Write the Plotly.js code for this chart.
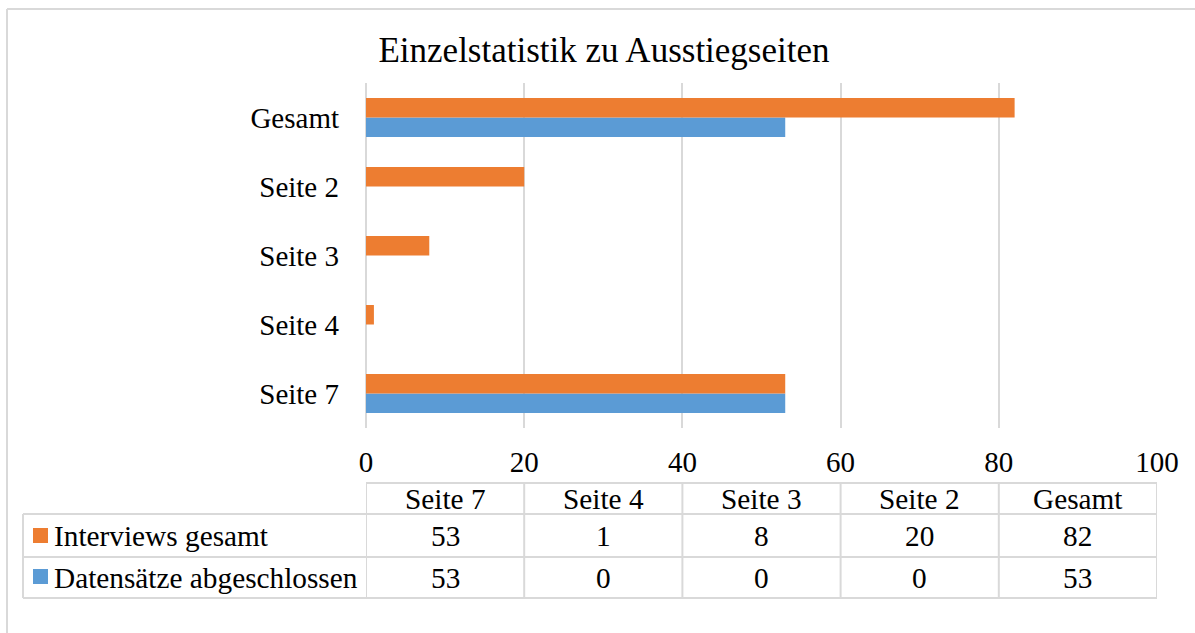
<!DOCTYPE html>
<html>
<head>
<meta charset="utf-8">
<script src="https://cdn.plot.ly/plotly-3.0.1.min.js"></script>
<style>html,body{margin:0;padding:0;background:#fff;}</style>
</head>
<body>
<div id="chart" style="width:1195px;height:633px;"></div>
<script>
// ---- data ----
const categories = ["Seite 7", "Seite 4", "Seite 3", "Seite 2", "Gesamt"];
const interviewsGesamt = [53, 1, 8, 20, 82];
const datensaetzeAbgeschlossen = [53, 0, 0, 0, 53];
const seriesNames = ["Interviews gesamt", "Datensätze abgeschlossen"];
const xTicks = [0, 20, 40, 60, 80, 100];
const chartTitle = "Einzelstatistik zu Ausstiegseiten";

// ---- style ----
const ORANGE = "#ED7D31", BLUE = "#5B9BD5", GRID = "#d9d9d9";
const FONT = "Liberation Serif";
const W = 1195, H = 633;
const L = 366, R = 1157, T = 83, B = 428;
const pw = R - L, ph = B - T;
const px = v => (v - L) / pw;      // pixel x -> paper
const py = v => (B - v) / ph;      // pixel y -> paper

const traces = [
  {type: "bar", orientation: "h", name: seriesNames[1], y: categories, x: datensaetzeAbgeschlossen,
   marker: {color: BLUE}, hoverinfo: "x+y"},
  {type: "bar", orientation: "h", name: seriesNames[0], y: categories, x: interviewsGesamt,
   marker: {color: ORANGE}, hoverinfo: "x+y"}
];

const shapes = [];
const annotations = [];
const line = (x0, y0, x1, y1, xref) => shapes.push({type: "line", xref: xref || "paper", yref: "paper",
  x0: x0, y0: y0, x1: x1, y1: y1, line: {color: GRID, width: 2}});

// outer chart border (left + top visible)
line(px(7), py(9), px(7), py(640));
line(px(7), py(9), px(1200), py(9));

// data table grid
const yHead = 483, yR1 = 514, yR2 = 557, yBot = 598, xLab = 23;
line(0, py(yHead), 100, py(yHead), "x");
[yR1, yR2, yBot].forEach(y => shapes.push({type: "line", xref: "paper", yref: "paper",
  x0: px(xLab), x1: 1, y0: py(y), y1: py(y), line: {color: GRID, width: 2}}));
line(px(xLab), py(yR1), px(xLab), py(yBot));
xTicks.forEach(t => line(t, py(yHead), t, py(yBot), "x"));

const txt = (x, y, s, xref, anchor) => annotations.push({xref: xref || "paper", yref: "paper", x: x, y: y,
  text: s, showarrow: false, xanchor: anchor || "center", yanchor: "middle",
  font: {family: FONT, size: 29.3, color: "#000"}});

const step = xTicks[1] - xTicks[0];
categories.forEach((c, i) => {
  const cx = xTicks[0] + step * (i + 0.5);
  txt(cx, py((yHead + yR1) / 2), c, "x");
  txt(cx, py((yR1 + yR2) / 2), String(interviewsGesamt[i]), "x");
  txt(cx, py((yR2 + yBot) / 2), String(datensaetzeAbgeschlossen[i]), "x");
});

// legend keys in table
shapes.push({type: "rect", xref: "paper", yref: "paper", x0: px(33), x1: px(48),
  y0: py(528), y1: py(543), fillcolor: ORANGE, line: {width: 0}});
shapes.push({type: "rect", xref: "paper", yref: "paper", x0: px(33), x1: px(48),
  y0: py(569), y1: py(584), fillcolor: BLUE, line: {width: 0}});
txt(px(52), py((yR1 + yR2) / 2), seriesNames[0], "paper", "left");
txt(px(52), py((yR2 + yBot) / 2), seriesNames[1], "paper", "left");

const layout = {
  width: W, height: H,
  margin: {l: L, r: W - R, t: T, b: H - B, pad: 0},
  paper_bgcolor: "#fff", plot_bgcolor: "#fff",
  showlegend: false,
  barmode: "group", bargap: 0.435, bargroupgap: 0,
  font: {family: FONT, color: "#000"},
  title: {text: chartTitle, font: {family: FONT, size: 35, color: "#000"},
    xref: "container", yref: "container", x: 604 / W, y: 1 - 50 / H, xanchor: "center", yanchor: "middle"},
  xaxis: {range: [0, 100], tickvals: xTicks, ticktext: xTicks.map(String), showgrid: true, gridcolor: GRID, gridwidth: 2,
    zeroline: true, zerolinecolor: GRID, zerolinewidth: 2, showline: false, ticks: "",
    tickfont: {family: FONT, size: 29, color: "#000"}, ticklabelstandoff: 14, fixedrange: true},
  yaxis: {type: "category", showgrid: false, zeroline: false, showline: false, ticks: "",
    tickfont: {family: FONT, size: 29, color: "#000"}, ticklabelstandoff: 26, fixedrange: true},
  shapes: shapes,
  annotations: annotations
};

Plotly.newPlot("chart", traces, layout, {displayModeBar: false, staticPlot: true});
</script>
</body>
</html>
